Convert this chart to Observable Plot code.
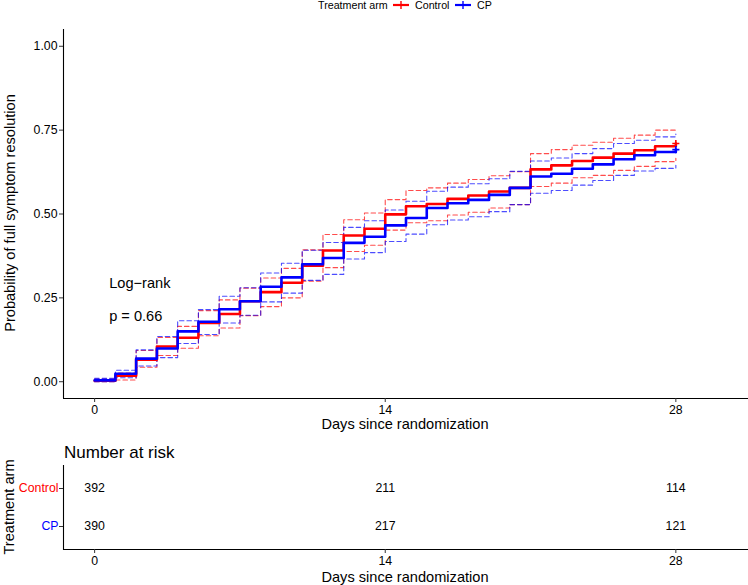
<!DOCTYPE html>
<html><head><meta charset="utf-8">
<script src="https://cdn.jsdelivr.net/npm/d3@7"></script>
<script src="https://cdn.jsdelivr.net/npm/@observablehq/plot@0.6"></script>
<style>
body{margin:0;background:#fff;font-family:"Liberation Sans",Arial,sans-serif;color:#000;}
#wrap{position:relative;width:748px;height:585px;overflow:hidden;background:#fff;}
.abs{position:absolute;white-space:nowrap;line-height:1;}
svg{overflow:visible;}
</style></head><body><div id="wrap"></div>
<script>
// ---- data ----
const days = [0,1,2,3,4,5,6,7,8,9,10,11,12,13,14,15,16,17,18,19,20,21,22,23,24,25,26,27,28];
const arms = ["Control", "CP"];
const armColors = ["#FF0000", "#0000FF"];
const controlEst = [0.003,0.018,0.066,0.105,0.131,0.175,0.202,0.240,0.267,0.295,0.346,0.391,0.436,0.456,0.499,0.523,0.530,0.545,0.555,0.567,0.578,0.633,0.645,0.658,0.668,0.680,0.690,0.702,0.710];
const controlHi  = [0.008,0.026,0.093,0.132,0.165,0.212,0.244,0.279,0.309,0.338,0.393,0.439,0.483,0.503,0.543,0.570,0.578,0.592,0.603,0.614,0.626,0.680,0.692,0.705,0.714,0.726,0.735,0.750,0.752];
const controlLo  = [0.000,0.005,0.043,0.078,0.100,0.137,0.160,0.197,0.224,0.250,0.300,0.340,0.388,0.407,0.452,0.474,0.480,0.497,0.505,0.518,0.528,0.582,0.592,0.608,0.615,0.630,0.642,0.656,0.666];
const cpEst = [0.004,0.024,0.069,0.099,0.150,0.179,0.216,0.240,0.283,0.311,0.350,0.369,0.414,0.432,0.466,0.488,0.518,0.532,0.542,0.557,0.578,0.612,0.620,0.635,0.648,0.663,0.675,0.685,0.692];
const cpHi  = [0.010,0.034,0.095,0.135,0.182,0.215,0.255,0.280,0.324,0.353,0.392,0.415,0.460,0.480,0.512,0.538,0.568,0.580,0.590,0.605,0.627,0.658,0.667,0.680,0.695,0.710,0.720,0.730,0.738];
const cpLo  = [0.000,0.012,0.047,0.072,0.114,0.141,0.175,0.198,0.238,0.264,0.302,0.320,0.366,0.385,0.418,0.440,0.468,0.482,0.492,0.507,0.528,0.562,0.570,0.586,0.600,0.615,0.628,0.636,0.645];
const riskDays = [0, 14, 28];
const riskControl = [392, 211, 114];
const riskCP = [390, 217, 121];
const xTicks = [0, 14, 28];
const yTicks = [0, 0.25, 0.5, 0.75, 1];
const pText = ["Log\u2212rank", "p = 0.66"];

// ---- build tables ----
const rows = [];
days.forEach((d, i) => rows.push({arm: "Control", day: d, est: controlEst[i], hi: controlHi[i], lo: controlLo[i]}));
days.forEach((d, i) => rows.push({arm: "CP", day: d, est: cpEst[i], hi: cpHi[i], lo: cpLo[i]}));
const censor = [
  {arm: "Control", day: days[days.length-1], est: controlEst[controlEst.length-1]},
  {arm: "CP", day: days[days.length-1], est: cpEst[cpEst.length-1]}
];
const risk = [];
riskDays.forEach((d, i) => { risk.push({arm: "Control", day: d, n: riskControl[i]}); risk.push({arm: "CP", day: d, n: riskCP[i]}); });

const FONT = "Liberation Sans, Arial, sans-serif";
const plusSymbol = {draw(ctx, size) { const r = Math.sqrt(size) / 2; ctx.moveTo(-r, 0); ctx.lineTo(r, 0); ctx.moveTo(0, -r); ctx.lineTo(0, r); }};
const xDomain = [-1.5, 31.5];

const wrap = document.getElementById("wrap");

// ---- main KM plot ----
const main = Plot.plot({
  width: 748, height: 440,
  marginTop: 29, marginBottom: 42, marginLeft: 63, marginRight: 0,
  style: {fontFamily: FONT, fontSize: "12.3px", color: "#000", background: "transparent"},
  x: {domain: xDomain, label: null},
  y: {domain: [-0.05, 1.05], label: null},
  color: {domain: arms, range: armColors},
  marks: [
    Plot.line(rows, {x: "day", y: "hi", z: "arm", stroke: "arm", curve: "step-after", strokeDasharray: "4.5,3", strokeWidth: 1.1, strokeOpacity: 0.7}),
    Plot.line(rows, {x: "day", y: "lo", z: "arm", stroke: "arm", curve: "step-after", strokeDasharray: "4.5,3", strokeWidth: 1.1, strokeOpacity: 0.7}),
    Plot.line(rows, {x: "day", y: "est", z: "arm", stroke: "arm", curve: "step-after", strokeWidth: 2.6}),
    Plot.dot(censor, {x: "day", y: "est", stroke: "arm", symbol: plusSymbol, r: 4, strokeWidth: 1.6}),
    Plot.ruleX([xDomain[0]], {stroke: "#000", strokeWidth: 1.1}),
    Plot.ruleY([-0.05], {stroke: "#000", strokeWidth: 1.1}),
    Plot.axisX({ticks: xTicks, tickSize: 4, tickPadding: 3, label: null, stroke: "#333"}),
    Plot.axisY({ticks: yTicks, tickFormat: d3.format(".2f"), tickSize: 4, tickPadding: 2, label: null, stroke: "#333"}),
    Plot.text([pText[0]], {x: 0.7, y: 0.2925, text: d => d, textAnchor: "start", fontSize: 14.6}),
    Plot.text([pText[1]], {x: 0.7, y: 0.194, text: d => d, textAnchor: "start", fontSize: 14.6})
  ]
});
main.style.position = "absolute"; main.style.left = "0px"; main.style.top = "0px";
wrap.appendChild(main);

// ---- risk table ----
const table = Plot.plot({
  width: 748, height: 145,
  marginTop: 25, marginBottom: 36, marginLeft: 63, marginRight: 0,
  style: {fontFamily: FONT, fontSize: "12.3px", color: "#000", background: "transparent"},
  x: {domain: xDomain, label: null},
  y: {type: "point", domain: arms, padding: 0.6, label: null},
  marks: [
    Plot.ruleX([xDomain[0]], {stroke: "#000", strokeWidth: 1.1}),
    Plot.frame({anchor: "bottom", stroke: "#000", strokeWidth: 1.1}),
    Plot.axisX({ticks: xTicks, tickSize: 4, tickPadding: 3, label: null, stroke: "#333"}),
    Plot.axisY({tickSize: 4, tickFormat: () => "", label: null, stroke: "#333"}),
    Plot.text(risk, {x: "day", y: "arm", text: "n", fontSize: 12.3, fill: "#000"}),
    Plot.text(arms.slice(0, 1), {y: d => d, frameAnchor: "left", textAnchor: "end", dx: -5, fill: armColors[0], text: d => d, fontSize: 12.3}),
    Plot.text(arms.slice(1, 2), {y: d => d, frameAnchor: "left", textAnchor: "end", dx: -5, fill: armColors[1], text: d => d, fontSize: 12.3})
  ]
});
table.style.position = "absolute"; table.style.left = "0px"; table.style.top = "440px";
wrap.appendChild(table);

// ---- titles & legend (HTML text) ----
function addText(txt, css) {
  const el = document.createElement("div");
  el.className = "abs";
  el.textContent = txt;
  Object.assign(el.style, css);
  wrap.appendChild(el);
  return el;
}
addText("Probability of full symptom resolution", {left: "10px", top: "213px", fontSize: "14.6px", transform: "translate(-50%,-50%) rotate(-90deg)"});
addText("Days since randomization", {left: "405px", top: "424px", fontSize: "14.6px", transform: "translate(-50%,-50%)"});
addText("Number at risk", {left: "64px", top: "452px", fontSize: "17px", transform: "translate(0,-50%)"});
addText("Treatment arm", {left: "9px", top: "507px", fontSize: "14.6px", transform: "translate(-50%,-50%) rotate(-90deg)"});
addText("Days since randomization", {left: "405px", top: "577px", fontSize: "14.6px", transform: "translate(-50%,-50%)"});

// legend
addText("Treatment arm", {left: "318px", top: "5px", fontSize: "10.7px", transform: "translate(0,-50%)"});
const legendItems = [{label: arms[0], color: armColors[0], kx: 393, tx: 415}, {label: arms[1], color: armColors[1], kx: 455, tx: 477}];
legendItems.forEach(it => {
  const key = d3.create("svg").attr("width", 16).attr("height", 10)
    .style("position", "absolute").style("left", it.kx + "px").style("top", "0px");
  key.append("line").attr("x1", 0).attr("x2", 16).attr("y1", 5).attr("y2", 5).attr("stroke", it.color).attr("stroke-width", 2.2);
  key.append("line").attr("x1", 8).attr("x2", 8).attr("y1", 1).attr("y2", 9).attr("stroke", it.color).attr("stroke-width", 1.4);
  wrap.appendChild(key.node());
  addText(it.label, {left: it.tx + "px", top: "5px", fontSize: "10.7px", transform: "translate(0,-50%)"});
});
</script></body></html>
